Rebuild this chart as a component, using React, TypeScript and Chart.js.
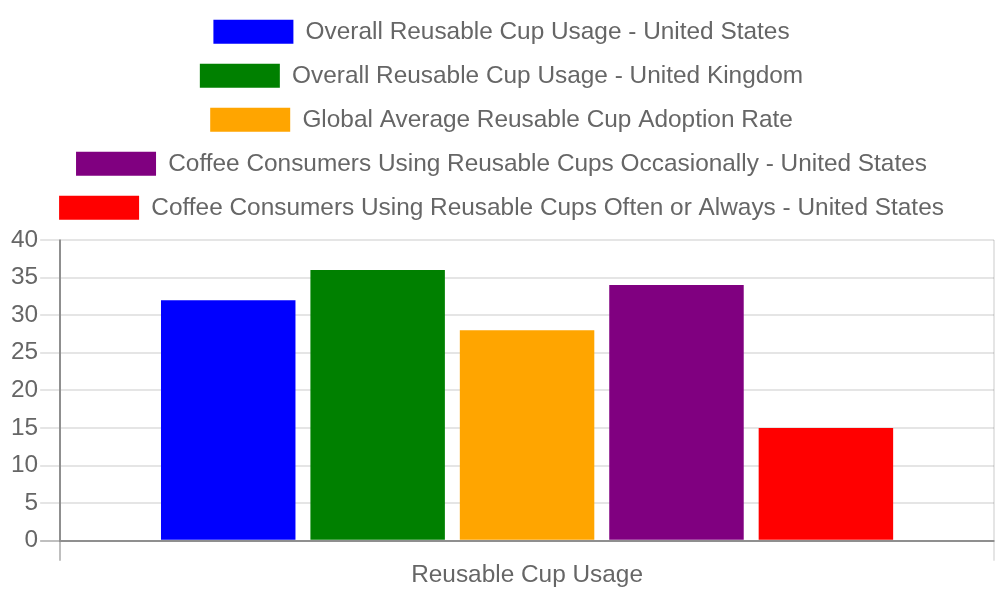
import { useEffect, useRef } from 'react';
import Chart from 'chart.js/auto';

const categories = ['Reusable Cup Usage'];
const seriesLabels = [
  'Overall Reusable Cup Usage - United States',
  'Overall Reusable Cup Usage - United Kingdom',
  'Global Average Reusable Cup Adoption Rate',
  'Coffee Consumers Using Reusable Cups Occasionally - United States',
  'Coffee Consumers Using Reusable Cups Often or Always - United States',
];
const seriesValues = [32, 36, 28, 34, 15];
const seriesColors = ['#0000ff', '#008000', '#ffa500', '#800080', '#ff0000'];
const yTicksMax = 40;
const yTicksStep = 5;

const LIGHT = 'rgba(0, 0, 0, 0.1)';
const DARK = 'rgba(0, 0, 0, 0.25)';

// adds a bit of room under the legend
const legendMargin = {
  id: 'legendMargin',
  beforeInit(chart: any) {
    const fit = chart.legend.fit;
    chart.legend.fit = function () {
      fit.bind(chart.legend)();
      this.height += 10;
    };
  },
};

export default function App() {
  const chartRef = useRef<HTMLCanvasElement | null>(null);
  const chartInstance = useRef<Chart | null>(null);

  useEffect(() => {
    if (!chartRef.current) return;
    if (chartInstance.current) {
      chartInstance.current.destroy();
    }
    const ctx = chartRef.current.getContext('2d');
    if (!ctx) return;

    Chart.defaults.font.family = "'Liberation Sans', Arial, sans-serif";
    Chart.defaults.color = '#666';

    chartInstance.current = new Chart(ctx, {
      type: 'bar',
      data: {
        labels: categories,
        datasets: seriesLabels.map((label, i) => ({
          label,
          data: [seriesValues[i]],
          backgroundColor: seriesColors[i],
          borderWidth: 0,
        })),
      },
      plugins: [legendMargin],
      options: {
        animation: false,
        responsive: true,
        maintainAspectRatio: false,
        layout: { padding: { left: 9, right: 6, bottom: 10 } },
        plugins: {
          tooltip: { enabled: false },
          legend: {
            position: 'top',
            labels: {
              boxWidth: 80,
              boxHeight: 24,
              padding: 19.6,
              font: { size: 24.4 },
            },
          },
        },
        scales: {
          x: {
            grid: {
              offset: true,
              tickLength: 20,
              lineWidth: 2,
              color: (c: any) => (c.index === 0 ? DARK : LIGHT),
            },
            border: { color: DARK, width: 2 },
            ticks: { font: { size: 24.4 }, padding: 0 },
          },
          y: {
            min: 0,
            max: yTicksMax,
            grid: {
              tickLength: 20,
              lineWidth: 2,
              color: (c: any) => (c.tick && c.tick.value === 0 ? DARK : LIGHT),
            },
            border: { color: DARK, width: 2 },
            ticks: { stepSize: yTicksStep, font: { size: 24.4 }, padding: 2 },
          },
        },
      },
    });

    return () => {
      if (chartInstance.current) {
        chartInstance.current.destroy();
        chartInstance.current = null;
      }
    };
  }, []);

  return (
    <div style={{ position: 'absolute', left: 0, top: 0, width: 1000, height: 600 }}>
      <canvas ref={chartRef}></canvas>
    </div>
  );
}
